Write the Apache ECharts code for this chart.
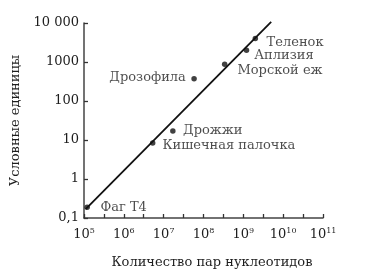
<!DOCTYPE html>
<html><head><meta charset="utf-8">
<script src="https://cdn.jsdelivr.net/npm/echarts@6/dist/echarts.min.js"></script>
<style>html,body{margin:0;padding:0;background:#fff}#c{width:372px;height:275px}</style>
</head><body><div id="c"></div>
<script>
// Data
const organisms = ['Фаг Т4','Кишечная палочка','Дрожжи','Дрозофила','Морской еж','Аплизия','Теленок'];
const basePairs = [1.2e5, 5.3e6, 1.7e7, 5.8e7, 3.4e8, 1.2e9, 2.0e9];
const units     = [0.19, 8.4, 17, 370, 870, 2000, 4000];
const trendX = [1.1e5, 5.0e9];
const trendY = [0.17, 10700];
const yTickLabels = {'0.1':'0,1','1':'1','10':'10','100':'100','1000':'1000','10000':'10 000'};
const xTitle = 'Количество пар нуклеотидов';
const yTitle = 'Условные единицы';

// label placement (styling only)
const labelPlace = [
  {position:'right', distance:10.5, offset:[0,0]},
  {position:'right', distance:7, offset:[0,3]},
  {position:'right', distance:7.5, offset:[0,0]},
  {position:'left', distance:5.5, offset:[0,-1]},
  {position:'right', distance:10, offset:[0,6]},
  {position:'right', distance:5, offset:[0,5]},
  {position:'right', distance:8.5, offset:[0,4]}
];

const FONT = 'DejaVu Serif';
const TXT = '#1e1e1e';
const AX = '#444';
const chart = echarts.init(document.getElementById('c'));
chart.setOption({
  animation:false,
  grid:{left:84, right:49, top:23, bottom:57},
  xAxis:{
    type:'log', logBase:10, min:1e5, max:1e11, interval:0.5,
    name:xTitle, nameLocation:'middle', nameGap:38,
    nameTextStyle:{fontFamily:FONT, fontSize:13, color:TXT, padding:[0,0,0,17]},
    axisLine:{lineStyle:{color:AX, width:1.5}},
    axisTick:{show:true, inside:true, length:4, interval:0, lineStyle:{color:'#333', width:1.3}},
    splitLine:{show:false},
    axisLabel:{margin:9, color:TXT, showMinLabel:true, showMaxLabel:true, hideOverlap:false, interval:0,
      formatter:function(v){ const e=Math.log10(v); const r=Math.round(e);
        if (Math.abs(e-r)>0.01) return ''; return '{b|10}{s|'+r+'}'; },
      rich:{b:{fontFamily:FONT, fontSize:13, color:TXT}, s:{fontFamily:FONT, fontSize:8, color:TXT, padding:[0,0,7,0]}}}
  },
  yAxis:{
    type:'log', logBase:10, min:0.1, max:10000,
    name:yTitle, nameLocation:'middle', nameGap:50, nameRotate:90,
    nameTextStyle:{fontFamily:FONT, fontSize:13, color:TXT},
    axisLine:{show:true, lineStyle:{color:AX, width:1.5}},
    axisTick:{show:true, inside:true, length:4, lineStyle:{color:'#333', width:1.3}},
    splitLine:{show:false},
    axisLabel:{margin:5, fontFamily:FONT, fontSize:13, color:TXT,
      formatter:function(v){ const k=String(+v.toPrecision(3)); return yTickLabels[k]!==undefined?yTickLabels[k]:k; }}
  },
  series:[
    {type:'line', data:trendX.map((x,i)=>[x,trendY[i]]), symbol:'none', clip:false,
     lineStyle:{color:'#111', width:1.8}, silent:true},
    {type:'scatter', symbolSize:5.5, itemStyle:{color:'#111'},
     data:organisms.map((n,i)=>({name:n, value:[basePairs[i], units[i]],
       label:Object.assign({show:true, formatter:'{b}', fontFamily:FONT, fontSize:13, color:TXT}, labelPlace[i])})),
     label:{show:true}}
  ]
});
</script></body></html>
